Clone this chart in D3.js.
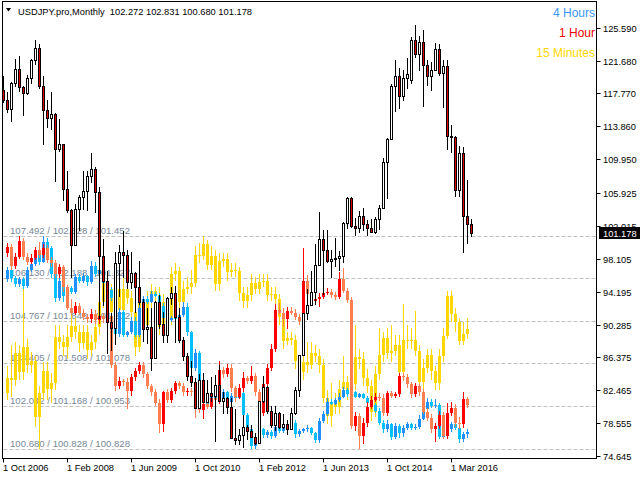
<!DOCTYPE html>
<html>
<head>
<meta charset="utf-8">
<script src="https://cdn.jsdelivr.net/npm/d3@7"></script>
<style>
body { margin: 0; background: #fff; }
svg { display: block; font-family: "Liberation Sans", Arial, sans-serif; }
</style>
</head>
<body>
<svg id="chart" width="640" height="480"></svg>
<script>
// monthly USDJPY bars, Oct 2006 .. Aug 2016 (Apr 2015 missing in the feed)
const mOpen = [118.2,117.0,115.9,119.0,120.7,118.5,117.8,119.6,121.7,123.2,118.6,115.8,114.8,115.3,111.2,111.7,106.4,103.9,99.7,104.0,
  105.5,106.2,108.0,108.8,106.0,98.4,95.5,90.6,89.9,97.6,98.9,98.5,95.3,96.4,94.7,93.0,89.8,90.0,86.3,93.0,
  90.3,89.0,93.4,94.0,91.2,88.4,86.5,84.2,83.5,80.4,83.7,81.1,82.1,81.8,83.1,81.2,81.5,80.5,76.8,76.6,
  77.1,78.1,77.6,76.9,76.2,81.2,82.8,80.0,78.3,79.8,78.1,78.4,77.9,79.8,82.5,86.7,91.7,92.6,94.2,97.4,
  100.5,99.1,97.8,98.1,98.2,98.4,102.4,105.3,102.0,101.8,103.2,102.2,101.8,101.3,102.8,104.1,109.6,112.3,118.6,119.8,
  117.5,119.6,119.4,124.1,122.5,123.9,121.2,119.9,120.6,123.1,120.2,121.0,112.7,112.6,106.3,110.7,103.2,102.272];
const mHigh = [119.9,118.0,119.1,121.9,122.2,118.7,120.0,121.9,124.1,123.7,119.8,117.0,117.9,115.4,114.7,111.8,108.6,104.0,104.6,105.7,
  108.6,108.6,110.7,109.0,106.6,100.5,96.6,91.6,98.9,99.7,101.4,99.1,98.9,96.5,97.8,93.3,92.3,92.2,93.1,93.8,
  91.8,93.5,94.8,94.9,92.2,88.8,86.9,86.0,83.9,84.4,84.5,83.7,84.0,84.3,85.5,82.2,81.7,81.5,80.2,77.9,
  79.5,78.3,78.3,77.4,81.2,84.2,83.0,80.6,80.6,79.9,79.7,78.9,80.4,82.8,86.7,91.7,94.5,96.7,99.9,103.7,
  101.5,101.5,99.1,100.6,99.0,102.5,105.4,105.4,103.0,103.8,104.1,102.7,102.8,103.1,104.5,110.1,112.5,118.9,121.8,120.8,
  120.5,122.0,124.5,125.9,124.6,125.3,121.8,121.5,123.8,123.7,121.7,121.7,114.0,112.7,111.5,111.4,107.5,102.831];
const mLow = [116.6,115.4,114.4,118.5,118.0,115.1,117.6,118.9,121.1,118.3,111.6,113.7,113.4,107.2,110.8,105.0,103.6,95.8,99.7,101.4,
  103.9,103.8,107.1,103.5,90.9,92.5,86.8,87.1,87.9,93.5,95.8,94.5,94.5,91.7,92.6,88.2,88.0,84.8,86.2,89.8,
  88.1,88.1,92.6,88.1,88.1,86.0,83.6,82.9,80.4,80.2,80.9,81.1,81.1,76.3,81.3,79.6,79.7,76.8,75.9,75.9,
  75.6,76.6,76.9,76.0,76.1,80.9,79.6,78.0,77.6,77.9,77.9,77.1,77.7,79.5,81.7,86.5,90.8,92.6,92.6,97.3,
  93.8,97.6,95.8,97.1,96.6,97.6,101.6,101.8,100.8,101.2,101.4,100.8,101.2,101.1,101.5,104.0,105.2,112.2,115.6,115.9,
  116.9,118.3,118.9,122.0,120.4,116.2,118.6,118.1,120.6,119.9,116.0,111.0,110.7,105.5,105.5,98.8,99.9,100.680];
const mClose = [117.0,115.9,119.0,120.7,118.5,117.8,119.6,121.7,123.2,118.6,115.8,114.8,115.3,111.2,111.7,106.4,103.9,99.7,104.0,105.5,
  106.2,108.0,108.8,106.0,98.4,95.5,90.6,89.9,97.6,98.9,98.5,95.3,96.4,94.7,93.0,89.8,90.0,86.3,93.0,90.3,
  89.0,93.4,94.0,91.2,88.4,86.5,84.2,83.5,80.4,83.7,81.1,82.1,81.8,83.1,81.2,81.5,80.5,76.8,76.6,77.1,
  78.1,77.6,76.9,76.2,81.2,82.8,80.0,78.3,79.8,78.1,78.4,77.9,79.8,82.5,86.7,91.7,92.6,94.2,97.4,100.5,
  99.1,97.8,98.1,98.2,98.4,102.4,105.3,102.0,101.8,103.2,102.2,101.8,101.3,102.8,104.1,109.6,112.3,118.6,119.8,117.5,
  119.6,120.1,124.1,122.5,123.9,121.2,119.9,120.6,123.1,120.2,121.0,112.7,112.6,106.3,110.7,103.2,102.3,101.178];

// 4 hour bars (open of each bar = previous close)
const h4Open0 = 106.085;
const h4Close = [106.404,106.117,105.925,106.085,105.861,106.404,106.596,106.916,106.660,107.300,
  107.108,106.245,105.509,106.021,105.573,105.797,105.701,106.149,106.021,106.181,
  105.989,106.532,106.245,106.404,105.957,105.765,105.509,104.326,105.061,104.294,
  104.390,104.773,104.294,105.189,105.477,105.381,105.637,105.573,105.253,104.869,
  104.805,104.869,104.837,104.965,105.221,104.390,103.270,103.750,102.823,102.247,
  102.055,102.343,102.247,102.311,102.471,102.183,102.375,102.311,102.439,101.767,
  101.288,100.744,100.904,101.288,101.096,101.192,101.064,101.352,101.224,101.320,
  101.416,101.511,101.128,101.224,101.288,101.320,101.160,100.936,101.575,101.799,
  102.183,102.119,102.247,102.343,102.535,102.407,102.471,102.343,102.407,102.311,
  102.151,102.087,101.895,101.511,101.288,101.448,101.032,101.384,101.160,101.320,
  101.448,101.320,101.352,101.639,101.959,102.183,102.055,102.087,101.032,101.128,
  101.288,101.448,101.320,100.968,101.128,101.192];
const h4High = [106.50,106.47,106.21,106.18,106.15,106.50,106.69,107.04,107.01,107.492,
  107.40,107.17,106.31,106.12,106.12,105.89,105.89,106.25,106.25,106.28,
  106.24,106.69,106.63,106.50,106.47,106.02,105.86,105.57,105.16,105.12,
  104.45,104.87,104.87,105.29,105.57,105.57,105.73,105.70,105.64,105.32,
  104.93,104.93,104.93,105.03,105.35,105.32,104.45,103.85,103.81,102.89,
  102.31,102.44,102.44,102.41,102.57,102.53,102.47,102.44,102.57,102.50,
  101.83,101.35,101.00,101.38,101.35,101.26,101.26,101.45,101.42,101.38,
  101.51,101.61,101.58,101.29,101.35,101.42,101.38,101.22,101.67,101.89,
  102.28,102.25,102.31,102.44,102.66,102.60,102.53,102.53,102.47,102.47,
  102.37,102.21,102.15,101.96,101.58,101.58,101.51,101.48,101.45,101.42,
  101.54,101.51,101.45,101.74,102.02,102.28,102.25,102.25,102.15,101.22,
  101.35,101.54,101.51,101.38,101.22,101.29];
const h4Low = [105.99,105.99,105.83,105.86,105.77,105.80,106.31,106.53,106.56,106.60,
  107.01,106.12,105.38,105.41,105.35,105.48,105.61,105.61,105.96,105.96,
  105.89,105.93,106.15,106.15,105.86,105.67,105.41,104.26,104.23,104.23,
  104.23,104.33,104.23,104.23,105.09,105.29,105.32,105.51,105.13,104.74,
  104.74,104.74,104.77,104.77,104.87,104.29,102.98,103.17,102.73,102.15,
  101.93,101.99,102.18,102.18,102.25,102.09,102.12,102.25,102.25,101.67,
  101.19,100.680,100.68,100.81,101.00,101.03,100.97,101.00,101.16,101.16,
  101.26,101.35,101.00,101.06,101.16,101.22,101.10,100.84,100.87,101.51,
  101.73,102.06,102.06,102.18,102.28,102.34,102.34,102.28,102.28,102.25,
  102.06,101.99,101.80,101.42,101.19,101.22,100.94,100.97,101.03,101.06,
  101.26,101.26,101.26,101.29,101.58,101.90,101.99,101.99,100.97,100.97,
  101.06,101.22,101.26,100.87,100.90,101.03];

// 1 hour bars
const h1Open0 = 102.392;
const h1Close = [102.440,102.281,102.360,102.488,102.360,102.320,102.352,102.416,102.376,102.432,
  102.336,102.312,102.217,102.273,102.113,101.953,101.913,101.969,101.913,101.881,
  101.858,101.905,101.850,101.889,101.858,101.889,101.498,101.323,101.363,101.355,
  101.283,101.395,101.443,101.498,101.419,101.323,101.275,101.195,101.020,101.275,
  101.219,101.283,101.347,101.323,101.275,101.283,101.275,101.163,101.139,101.187,
  101.163,101.235,101.219,101.458,101.419,101.474,101.307,101.243,101.307,101.387,
  101.363,101.403,101.275,101.115,101.339,101.474,101.626,101.937,101.913,101.858,
  101.929,101.913,101.881,101.842,102.161,102.065,102.009,102.025,102.041,102.073,
  102.081,102.057,102.041,102.177,102.089,102.017,101.004,101.091,100.924,101.028,
  101.163,101.219,101.243,101.235,101.115,101.267,101.251,101.259,101.403,101.395,
  101.339,101.259,101.323,101.275,101.123,101.075,100.980,101.004,101.099,100.924,
  101.115,101.155,101.028,101.020,101.227,101.179];
const h1High = [102.47,102.46,102.39,102.528,102.51,102.39,102.38,102.44,102.48,102.46,
  102.45,102.36,102.33,102.30,102.29,102.13,102.02,102.00,101.99,101.94,
  101.90,101.94,101.93,101.92,101.91,101.92,101.91,101.52,101.40,101.38,
  101.39,101.42,101.47,101.52,101.52,101.44,101.34,101.30,101.22,101.29,
  101.30,101.31,101.37,101.37,101.35,101.31,101.31,101.30,101.19,101.21,
  101.21,101.26,101.26,101.53,101.48,101.50,101.50,101.33,101.34,101.44,
  101.41,101.49,101.43,101.30,101.37,101.50,101.66,101.98,101.99,101.95,
  101.96,101.96,101.94,101.90,102.43,102.21,102.09,102.05,102.07,102.10,
  102.11,102.10,102.08,102.24,102.27,102.11,102.04,101.12,101.11,101.07,
  101.20,101.25,101.27,101.27,101.26,101.29,101.29,101.28,101.43,101.43,
  101.42,101.36,101.35,101.34,101.30,101.15,101.10,101.03,101.13,101.12,
  101.19,101.20,101.18,101.08,101.28,101.24];
const h1Low = [102.36,102.25,102.26,102.34,102.33,102.29,102.30,102.33,102.35,102.35,
  102.31,102.28,102.19,102.19,102.08,101.93,101.89,101.89,101.89,101.85,
  101.83,101.83,101.82,101.82,101.83,101.84,101.47,101.29,101.30,101.33,
  101.14,101.25,101.37,101.42,101.39,101.30,101.25,101.17,100.95,100.96,
  101.19,101.19,101.26,101.30,101.25,101.25,101.25,101.07,101.11,101.06,
  101.14,101.14,101.20,101.18,101.39,101.40,101.28,101.20,101.22,101.28,
  101.34,101.34,101.25,101.09,101.09,101.31,101.45,101.60,101.89,101.80,
  101.78,101.89,101.85,101.81,101.81,102.04,101.98,101.99,101.96,102.02,
  102.05,102.03,102.01,102.02,102.07,101.99,100.98,100.97,100.828,100.86,
  101.00,101.14,101.20,101.21,101.09,101.09,101.23,101.23,101.24,101.37,
  101.31,101.23,101.24,101.25,101.10,101.05,100.95,100.88,100.98,100.90,
  100.90,101.09,101.00,100.98,100.99,101.15];

// 15 minute bars
const m15Open0 = 100.992;
const m15Close = [101.036,101.030,101.109,101.051,101.124,101.074,101.083,100.919,100.992,101.054,
  101.001,101.021,101.156,101.139,101.124,101.156,101.188,101.168,101.136,101.168,
  101.118,101.139,101.183,101.256,101.314,101.294,101.229,101.294,101.235,101.294,
  101.270,101.229,101.124,101.256,101.191,101.259,101.288,101.279,101.185,101.256,
  101.206,101.338,101.347,101.256,101.294,101.300,101.314,101.396,101.391,101.426,
  101.367,101.391,101.309,101.376,101.382,101.344,101.352,101.347,101.285,101.259,
  101.279,101.314,101.294,101.317,101.320,101.279,101.282,101.265,101.212,101.142,
  101.153,101.147,101.083,101.051,101.080,101.074,101.109,101.098,101.074,100.977,
  100.922,100.957,100.951,101.001,101.024,100.992,101.016,101.095,101.089,101.036,
  101.010,100.936,101.045,101.103,101.153,101.109,101.115,101.130,101.051,101.147,
  101.144,101.147,101.115,101.024,101.065,101.103,101.054,101.021,101.100,101.159,
  101.276,101.221,101.200,101.144,101.162,101.177];
const m15High = [101.07,101.13,101.14,101.13,101.31,101.15,101.11,101.10,101.01,101.08,
  101.08,101.05,101.19,101.19,101.16,101.19,101.23,101.21,101.19,101.19,
  101.19,101.16,101.21,101.28,101.34,101.33,101.31,101.31,101.31,101.33,
  101.31,101.29,101.25,101.28,101.27,101.29,101.31,101.30,101.30,101.28,
  101.27,101.36,101.37,101.36,101.32,101.33,101.35,101.42,101.43,101.452,
  101.44,101.42,101.41,101.40,101.40,101.40,101.37,101.37,101.36,101.30,
  101.30,101.34,101.33,101.34,101.34,101.34,101.30,101.30,101.28,101.23,
  101.17,101.17,101.16,101.10,101.12,101.14,101.14,101.13,101.12,101.09,
  101.00,101.02,100.99,101.03,101.10,101.04,101.04,101.19,101.12,101.11,
  101.06,101.03,101.07,101.18,101.17,101.18,101.19,101.16,101.16,101.25,
  101.19,101.18,101.23,101.13,101.09,101.12,101.12,101.07,101.12,101.18,
  101.29,101.29,101.24,101.21,101.20,101.21];
const m15Low = [100.97,100.98,101.01,101.03,101.03,101.05,101.05,100.89,100.828,100.97,
  100.97,100.96,101.00,101.12,101.10,101.09,101.14,101.15,101.11,101.12,
  101.09,101.10,101.12,101.16,101.24,101.27,101.20,101.21,101.20,101.22,
  101.25,101.21,101.10,101.11,101.17,101.17,101.24,101.26,101.16,101.16,
  101.19,101.19,101.32,101.23,101.24,101.28,101.28,101.30,101.37,101.38,
  101.35,101.35,101.29,101.29,101.36,101.32,101.33,101.33,101.26,101.24,
  101.24,101.26,101.28,101.28,101.30,101.26,101.26,101.25,101.19,101.12,
  101.13,101.13,101.06,101.03,101.03,101.05,101.06,101.08,101.05,100.96,
  100.90,100.89,100.93,100.93,100.98,100.97,100.97,101.00,101.06,101.01,
  100.99,100.91,100.92,101.03,101.08,101.09,101.08,101.10,101.03,101.03,
  101.12,101.12,101.10,101.00,101.00,101.05,101.03,101.00,101.00,101.08,
  101.15,101.20,101.17,101.13,101.13,101.15];

// axis labels
const priceTicks = [125.590,121.680,117.770,113.860,109.950,105.925,102.015,98.105,94.195,90.285,86.375,82.465,78.555,74.645];
const timeTickIdx = [0,16,32,48,64,80,96,112];
const timeTickText = ['1 Oct 2006','1 Feb 2008','1 Jun 2009','1 Oct 2010','1 Feb 2012','1 Jun 2013','1 Oct 2014','1 Mar 2016'];
const headerText = 'USDJPY.pro,Monthly  102.272 102.831 100.680 101.178';
const lastPrice = 101.178;

const overlays = [
  {name: '4 Hours', open0: h4Open0, close: h4Close, high: h4High, low: h4Low, up: '#1e90ff', down: '#00bfff', text: '#3a96f5'},
  {name: '1 Hour', open0: h1Open0, close: h1Close, high: h1High, low: h1Low, up: '#ff0000', down: '#ff7f50', text: '#f00000'},
  {name: '15 Minutes', open0: m15Open0, close: m15Close, high: m15High, low: m15Low, up: '#ffd700', down: '#ffd700', text: '#ffd700'}
];
const levelCount = 6;

const svg = d3.select('#chart');
const frame = {left: 2.5, right: 596.5, top: 1.5, bottom: 458.5};

// scales
const x = d3.scaleLinear().domain([0, mClose.length - 1]).range([3.5, 471.5]);
const px = i => Math.floor(x(i)) + 0.5;
const y = d3.scaleLinear().domain(d3.extent(priceTicks)).range([456, 27.7]);
const oRange = [448.5, 235.5];
overlays.forEach(s => {
  s.scale = d3.scaleLinear().domain([d3.min(s.low), d3.max(s.high)]).range(oRange);
});

// dashed level lines + labels
const levels = d3.range(levelCount).map(k => k / (levelCount - 1));
const levelY = d3.scaleLinear().domain([0, 1]).range(oRange);
const gLev = svg.append('g');
levels.forEach(f => {
  const ly = Math.round(levelY(f)) + 0.5;
  gLev.append('line')
    .attr('x1', frame.left + 1).attr('x2', frame.right - 1)
    .attr('y1', ly).attr('y2', ly)
    .attr('stroke', '#c0c0c0').attr('stroke-dasharray', '4,2');
  const txt = overlays.map(s => d3.format('.3f')(s.scale.invert(levelY(f)))).join(' / ');
  gLev.append('text')
    .attr('x', 10).attr('y', ly - 3)
    .attr('font-size', 9.6).attr('fill', '#778899')
    .text(txt);
});

// overlay candles
function drawOverlay(s) {
  const g = svg.append('g');
  s.close.forEach((c, j) => {
    const o = j ? s.close[j - 1] : s.open0;
    const cx = px(j + 1);
    const col = c >= o ? s.up : s.down;
    g.append('line')
      .attr('x1', cx).attr('x2', cx)
      .attr('y1', Math.round(s.scale(s.high[j]))).attr('y2', Math.round(s.scale(s.low[j])))
      .attr('stroke', col);
    const top = Math.round(s.scale(Math.max(o, c)));
    const bot = Math.round(s.scale(Math.min(o, c)));
    g.append('rect')
      .attr('x', cx - 1.5).attr('y', top)
      .attr('width', 3).attr('height', Math.max(1, bot - top))
      .attr('fill', col);
  });
}
drawOverlay(overlays[2]);
drawOverlay(overlays[0]);
drawOverlay(overlays[1]);

// monthly candles
const gM = svg.append('g');
mClose.forEach((c, i) => {
  const o = mOpen[i];
  const cx = px(i);
  gM.append('line')
    .attr('x1', cx).attr('x2', cx)
    .attr('y1', Math.round(y(mHigh[i]))).attr('y2', Math.round(y(mLow[i])))
    .attr('stroke', '#000');
  const top = Math.round(y(Math.max(o, c))) + 0.5;
  const bot = Math.round(y(Math.min(o, c))) + 0.5;
  gM.append('rect')
    .attr('x', cx - 1).attr('y', top)
    .attr('width', 2).attr('height', Math.max(0, bot - top))
    .attr('fill', c >= o ? '#fff' : '#e00000')
    .attr('stroke', '#000');
});

// frame
svg.append('rect')
  .attr('x', frame.left).attr('y', frame.top)
  .attr('width', frame.right - frame.left).attr('height', frame.bottom - frame.top)
  .attr('fill', 'none').attr('stroke', '#000');

// price axis
const gY = svg.append('g');
priceTicks.forEach(v => {
  const ty = Math.round(y(v)) + 0.5;
  gY.append('line').attr('x1', frame.right).attr('x2', frame.right + 4)
    .attr('y1', ty).attr('y2', ty).attr('stroke', '#000');
  gY.append('text').attr('x', 603).attr('y', ty + 3.5)
    .attr('font-size', 9.3).attr('fill', '#000').text(d3.format('.3f')(v));
});
const lpY = y(lastPrice);
gY.append('rect').attr('x', 599).attr('y', Math.round(lpY) - 6)
  .attr('width', 41).attr('height', 12).attr('fill', '#000');
gY.append('text').attr('x', 603).attr('y', Math.round(lpY) + 3.5)
  .attr('font-size', 9.3).attr('fill', '#fff').text(d3.format('.3f')(lastPrice));

// time axis
const gX = svg.append('g');
timeTickIdx.forEach((idx, k) => {
  const tx = px(idx);
  gX.append('line').attr('x1', tx).attr('x2', tx)
    .attr('y1', frame.bottom).attr('y2', frame.bottom + 4).attr('stroke', '#000');
  gX.append('text').attr('x', tx - 0.5).attr('y', 471)
    .attr('font-size', 9.3).attr('fill', '#000').text(timeTickText[k]);
});

// header
svg.append('path').attr('d', 'M6,8 L11,8 L8.5,11.5 Z').attr('fill', '#000');
svg.append('text').attr('x', 18).attr('y', 15)
  .attr('font-size', 9.3).attr('fill', '#000')
  .attr('xml:space', 'preserve').style('white-space', 'pre')
  .text(headerText);

// legend
overlays.forEach((s, k) => {
  svg.append('text')
    .attr('x', 595).attr('y', 17 + k * 20)
    .attr('text-anchor', 'end')
    .attr('font-size', 12).attr('fill', s.text)
    .text(s.name);
});
</script>
</body>
</html>
